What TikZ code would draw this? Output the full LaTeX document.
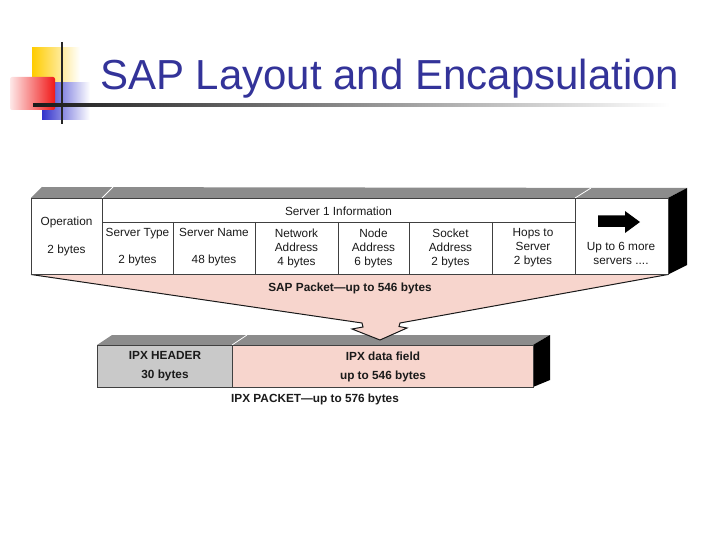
\documentclass[tikz,border=0pt]{standalone}
\usepackage{fontspec}
\setmainfont{Liberation Sans}
\usetikzlibrary{positioning}
\definecolor{titleblue}{HTML}{333399}
\definecolor{sappink}{HTML}{F7D5CD}
\definecolor{topgrey}{HTML}{8C8C8C}
\definecolor{hdrgrey}{HTML}{C9C9C9}
\definecolor{logoyellow}{HTML}{FFCC00}
\definecolor{logored}{HTML}{F01818}
\definecolor{logoblue}{HTML}{3333CC}
\definecolor{tdark}{HTML}{1A1A1A}

\begin{document}
\begin{tikzpicture}[
    x=1pt, y=-1pt,
    cell/.style={
      font=\fontsize{11.8}{14}\selectfont, align=center,
      text=tdark, inner sep=0pt
    },
    bcell/.style={cell, font=\fontsize{11.8}{14}\selectfont\bfseries},
    face/.style={draw=black!75, line width=0.8pt},
    ridge/.style={draw=white, line width=0.8pt},
    outline/.style={draw=black!90, line width=1pt, line join=miter}
  ]
  \useasboundingbox (0,0) rectangle (720,540);

  % Logo et titre
  \shade[left color=logoyellow, middle color=logoyellow, right color=white] (32,48) rectangle (80,95);
  \shade[left color=logoblue, middle color=logoblue, right color=white] (42,83) rectangle (90,120);
  \shade[left color=logored!10, right color=logored, rounded corners=2pt] (10,77) rectangle (55,110);
  \draw[line width=2pt, black!85] (62,42) -- (62,124);
  \shade[left color=black!90, right color=white] (33,103.5) rectangle (670,106.5);
  \node[anchor=base west, text=titleblue, font=\fontsize{42}{48}\selectfont, inner sep=0pt]
    (title) at (100,90) {SAP Layout and Encapsulation};

  % Paquet SAP (faces du dessus et de droite)
  \fill[topgrey] (31,198) -- (42,187) -- (687,188) -- (668,198) -- cycle;
  \fill[black] (668,198) -- (687,188) -- (687,265) -- (668,274.5) -- cycle;
  \draw[ridge] (102,198) -- (113,187);
  \draw[ridge] (575,198) -- (591,188);

  % Paquet IPX
  \fill[topgrey] (97,345) -- (112,335) -- (550,335) -- (533,345) -- cycle;
  \fill[black] (533,345) -- (550,335) -- (550,380) -- (533,387) -- cycle;
  \draw[ridge] (232,345) -- (247,335);
  \fill[hdrgrey] (97,345) rectangle (232,387);
  \fill[sappink] (232,345) rectangle (533,387);
  \draw[face] (97,345) rectangle (533,387);
  \draw[face] (232,345) -- (232,387);

  % Entonnoir vers le champ de donnees
  \fill[sappink] (31,274.5) -- (362,323) -- (363,327) -- (352,329) -- (380,340)
    -- (407,328) -- (399,326.5) -- (400,323) -- (668,274.5) -- cycle;
  \draw[outline] (31,274.5) -- (362,323) -- (363,327) -- (352,329) -- (380,340)
    -- (407,328) -- (399,326.5) -- (400,323) -- (668,274.5);

  % Face avant du paquet SAP
  \draw[face, fill=white] (31,198) rectangle (668,274.5);
  \foreach \x in {102,575}
    \draw[face] (\x,198) -- (\x,274.5);
  \foreach \x in {173,255,338,409,492}
    \draw[face] (\x,222) -- (\x,274.5);
  \draw[face] (102,222) -- (575,222);
  \fill[black] (598,215.5) -- (625,215.5) -- (625,211) -- (640,222)
    -- (625,233) -- (625,227) -- (598,227) -- cycle;

  % Champs
  \node[cell] (op)       at (66.5,236)  {Operation\\[14pt]2 bytes};
  \node[cell] (srv1)     at (338.5,211) {Server 1 Information};
  \node[cell] (stype)    at (137.5,247.5) {Server Type\\[13pt]2 bytes};
  \node[cell] (sname)    at (214,247.5) {Server Name\\[13pt]48 bytes};
  \node[cell] (netaddr)  at (296.5,248) {Network\\Address\\4 bytes};
  \node[cell] (nodeaddr) at (373.5,248) {Node\\Address\\6 bytes};
  \node[cell] (sockaddr) at (450.5,248) {Socket\\Address\\2 bytes};
  \node[cell] (hops)     at (533,248)   {Hops to\\Server\\2 bytes};
  \node[cell] (more)     at (621,253)   {Up to 6 more\\servers ....};

  \node[bcell] (sappkt)  at (350,288)   {SAP Packet\textemdash up to 546 bytes};
  \node[bcell] (ipxhdr)  at (165,366.5) {IPX HEADER\\[5pt]30 bytes};
  \node[bcell] (ipxdata) at (383,366.5) {IPX data field\\[5pt]up to 546 bytes};
  \node[bcell] (ipxpkt)  at (315,399)   {IPX PACKET\textemdash up to 576 bytes};

\end{tikzpicture}
\end{document}
